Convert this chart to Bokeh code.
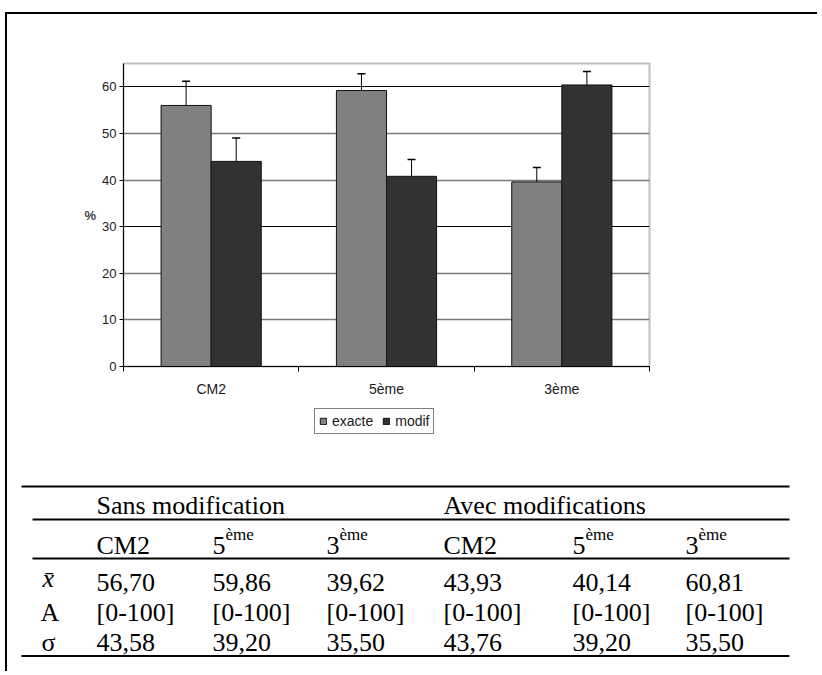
from bokeh.plotting import figure
from bokeh.models import (Range1d, FixedTicker, Legend, LegendItem, Whisker, TeeHead,
                          Grid, ColumnDataSource)
from bokeh.transform import dodge
from bokeh.embed import file_html
from bokeh.resources import INLINE
from bokeh.core.properties import value

# ---------------- data ----------------
categories = ["CM2", "5ème", "3ème"]
series = ["exacte", "modif"]
exacte = [56.0, 59.2, 39.6]
modif = [44.0, 40.8, 60.4]
exacte_err = [5.2, 3.6, 3.1]
modif_err = [5.0, 3.6, 2.9]
y_ticks = [0, 10, 20, 30, 40, 50, 60]

table_groups = ["Sans modification", "Avec modifications"]
col_base = ["CM2", "5", "3", "CM2", "5", "3"]
col_sup = ["", "ème", "ème", "", "ème", "ème"]
row_labels = ["x\u0304", "A", "σ"]
row_mean = ["56,70", "59,86", "39,62", "43,93", "40,14", "60,81"]
row_range = ["[0-100]", "[0-100]", "[0-100]", "[0-100]", "[0-100]", "[0-100]"]
row_sigma = ["43,58", "39,20", "35,50", "43,76", "39,20", "35,50"]

COL_EX = "#808080"
COL_MO = "#323232"

# ---------------- chart ----------------
W = 812
H1 = 386
FL, FR, FT, FB = 116, 642, 49, 352
SANS = "Liberation Sans"
SERIF = "Liberation Serif"

p = figure(width=W, height=H1, x_range=Range1d(0, 3), y_range=Range1d(0, 65),
           output_backend="svg", toolbar_location=None,
           min_border_left=FL, min_border_right=W - FR,
           min_border_top=FT, min_border_bottom=H1 - FB,
           margin=(12, 0, 0, 5),
           styles={"border-top": "2px solid black", "border-left": "2px solid black"})
p.background_fill_color = "white"
p.border_fill_color = "white"
p.outline_line_color = "#bfbfbf"
p.outline_line_width = 2

bw = 0.2857
src = ColumnDataSource(dict(
    x=[i + 0.5 for i in range(len(categories))],
    exacte=exacte, modif=modif,
    exacte_hi=[v + e for v, e in zip(exacte, exacte_err)],
    modif_hi=[v + e for v, e in zip(modif, modif_err)],
))

p.vbar(x=dodge("x", -bw / 2), top="exacte", bottom=0, width=bw, source=src,
       fill_color=COL_EX, line_color="#111111", line_width=1)
p.vbar(x=dodge("x", bw / 2), top="modif", bottom=0, width=bw, source=src,
       fill_color=COL_MO, line_color="#111111", line_width=1)

for base, lo, hi in [(dodge("x", -bw / 2), "exacte", "exacte_hi"),
                     (dodge("x", bw / 2), "modif", "modif_hi")]:
    w = Whisker(base=base, lower=lo, upper=hi, source=src, dimension="height",
                line_color="black", line_width=1,
                upper_head=TeeHead(size=8, line_color="black", line_width=1.5),
                lower_head=None)
    p.add_layout(w)

# grid lines
p.xgrid.visible = False
p.ygrid.ticker = FixedTicker(ticks=[10, 20, 40, 50])
p.ygrid.grid_line_color = "#7a7a7a"
p.ygrid.grid_line_width = 1.5
p.ygrid.level = "underlay"
g2 = Grid(dimension=1, ticker=FixedTicker(ticks=[30, 60]), grid_line_color="black",
          grid_line_width=1.2, level="underlay")
p.add_layout(g2)

# y axis
p.yaxis.ticker = FixedTicker(ticks=y_ticks, minor_ticks=[])
p.yaxis.major_tick_in = 0
p.yaxis.major_tick_out = 4
p.yaxis.minor_tick_line_color = None
p.yaxis.major_label_standoff = 3
p.yaxis.major_label_text_font = SANS
p.yaxis.major_label_text_font_size = "13px"
p.yaxis.major_label_text_color = "#1a1a1a"
p.yaxis.axis_line_color = "black"
p.yaxis.axis_label = "%"
p.yaxis.axis_label_text_font = SANS
p.yaxis.axis_label_text_font_style = "bold"
p.yaxis.axis_label_text_font_size = "13px"
p.yaxis.axis_label_standoff = 3
p.yaxis.axis_label_orientation = "horizontal"

# x axis: labels at category centres, ticks at category boundaries
p.xaxis.ticker = FixedTicker(ticks=[i + 0.5 for i in range(len(categories))],
                             minor_ticks=list(range(len(categories) + 1)))
p.xaxis.major_label_overrides = {i + 0.5: c for i, c in enumerate(categories)}
p.xaxis.major_tick_in = 0
p.xaxis.major_tick_out = 0
p.xaxis.minor_tick_in = 0
p.xaxis.minor_tick_out = 5
p.xaxis.minor_tick_line_color = "black"
p.xaxis.major_label_standoff = 9
p.xaxis.major_label_text_font = SANS
p.xaxis.major_label_text_font_size = "14px"
p.xaxis.major_label_text_color = "#1a1a1a"
p.xaxis.axis_line_color = "black"

# ---------------- legend + table ----------------
H2 = 273
t = figure(width=W, height=H2, x_range=Range1d(0, W), y_range=Range1d(H2, 0),
           output_backend="svg", toolbar_location=None, min_border=0,
           margin=(0, 0, 0, 5), styles={"border-left": "2px solid black"})
t.axis.visible = False
t.grid.visible = False
t.outline_line_color = None
t.background_fill_color = "white"
t.border_fill_color = "white"

# legend keys: same glyphs as the bars, mapped on a range that lies outside this panel
t.extra_x_ranges = {"key": Range1d(100, 200)}
t.extra_y_ranges = {"key": Range1d(1000, 2000)}
lr1 = t.vbar(x="x", top="exacte", width=bw, source=src,
             x_range_name="key", y_range_name="key",
             fill_color=COL_EX, line_color="#111111")
lr2 = t.vbar(x="x", top="modif", width=bw, source=src,
             x_range_name="key", y_range_name="key",
             fill_color=COL_MO, line_color="#111111")
legend = Legend(items=[LegendItem(label=series[0], renderers=[lr1]),
                       LegendItem(label=series[1], renderers=[lr2])],
                location=(307, H2 - 36), orientation="horizontal",
                border_line_color="black", border_line_width=1.5,
                padding=4, spacing=9, glyph_width=8, glyph_height=8,
                label_standoff=5, label_height=14, margin=0,
                label_text_font=SANS, label_text_font_size="14px",
                label_text_color="#1a1a1a", background_fill_color="white",
                background_fill_alpha=1)
t.add_layout(legend, "center")

rule_y = [88, 121, 160, 257.5]
rule_x0 = [14, 25, 25, 14]
rule_x1 = [782, 782, 782, 782]
t.segment(x0=rule_x0, y0=rule_y, x1=rule_x1, y1=rule_y, line_color="black", line_width=2)

col_x = [89, 205, 319, 436, 565, 678]
group_x = [col_x[0], col_x[3]]
FS = "26px"

t.text(x=group_x, y=[107, 107], text=table_groups, text_font=value(SERIF),
       text_font_size=FS, text_baseline="alphabetic", text_color="black")
t.text(x=col_x, y=[147] * 6, text=col_base, text_font=value(SERIF),
       text_font_size=FS, text_baseline="alphabetic", text_color="black")
sup_x = [x + 13 for x, s in zip(col_x, col_sup) if s]
sup_t = [s for s in col_sup if s]
t.text(x=sup_x, y=[136] * len(sup_x), text=sup_t, text_font=value(SERIF),
       text_font_size="17px", text_baseline="alphabetic", text_color="black")

row_y = [184, 214, 244]
for ry, row in zip(row_y, [row_mean, row_range, row_sigma]):
    t.text(x=col_x, y=[ry] * 6, text=row, text_font=value(SERIF),
           text_font_size=FS, text_baseline="alphabetic", text_color="black")

t.text(x=[35], y=[row_y[0] - 4], text=[row_labels[0]], text_font=value(SERIF),
       text_font_size="26px", text_font_style="italic", text_baseline="alphabetic")
t.text(x=[33, 34], y=row_y[1:], text=row_labels[1:], text_font=value(SERIF),
       text_font_size=FS, text_baseline="alphabetic")

open("out.html", "w").write(file_html([p, t], INLINE))
